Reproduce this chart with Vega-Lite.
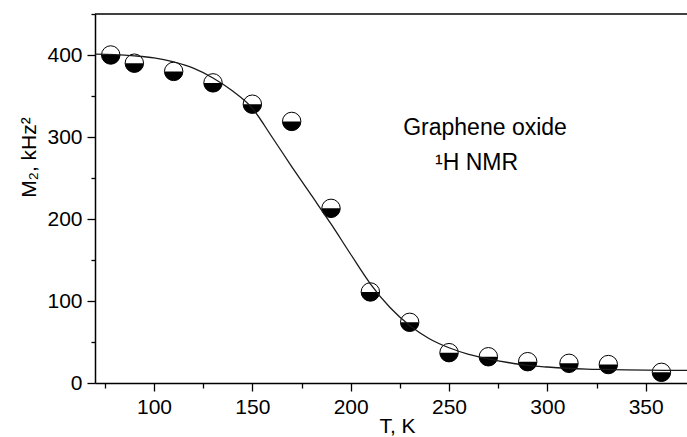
{
  "$schema": "https://vega.github.io/schema/vega-lite/v6.json",
  "width": 592,
  "height": 369,
  "autosize": {"type": "none"},
  "padding": {"left": 95, "top": 14, "right": 0, "bottom": 54},
  "background": "white",
  "config": {"view": {"stroke": null}, "font": "Liberation Sans"},
  "datasets": {
    "points": [
      {"T": 78, "M2": 400},
      {"T": 90, "M2": 390},
      {"T": 110, "M2": 380},
      {"T": 130, "M2": 366},
      {"T": 150, "M2": 340},
      {"T": 170, "M2": 319},
      {"T": 190, "M2": 213},
      {"T": 210, "M2": 111},
      {"T": 230, "M2": 74},
      {"T": 250, "M2": 37},
      {"T": 270, "M2": 32},
      {"T": 290, "M2": 26},
      {"T": 311, "M2": 24},
      {"T": 331, "M2": 22.5},
      {"T": 358, "M2": 13}
    ],
    "fit": [
      {"T": 70, "M2": 401},
      {"T": 80, "M2": 400.5},
      {"T": 90, "M2": 399},
      {"T": 100, "M2": 396.5},
      {"T": 110, "M2": 391.5},
      {"T": 120, "M2": 384},
      {"T": 130, "M2": 372},
      {"T": 140, "M2": 356},
      {"T": 150, "M2": 335},
      {"T": 160, "M2": 300},
      {"T": 170, "M2": 264},
      {"T": 180, "M2": 229},
      {"T": 190, "M2": 194},
      {"T": 200, "M2": 157},
      {"T": 210, "M2": 121},
      {"T": 220, "M2": 92},
      {"T": 230, "M2": 70},
      {"T": 240, "M2": 54},
      {"T": 250, "M2": 43},
      {"T": 260, "M2": 35},
      {"T": 270, "M2": 29.5},
      {"T": 280, "M2": 25},
      {"T": 290, "M2": 21.5},
      {"T": 300, "M2": 19.5},
      {"T": 310, "M2": 18},
      {"T": 320, "M2": 17},
      {"T": 330, "M2": 16.5},
      {"T": 340, "M2": 16},
      {"T": 350, "M2": 15.7},
      {"T": 360, "M2": 15.5},
      {"T": 371, "M2": 15.3}
    ],
    "notes": [
      {"label": "Graphene oxide", "T": 226.7, "M2": 303},
      {"label": "¹H NMR", "T": 242.9, "M2": 259.7}
    ],
    "frame": [{"M2": 450}]
  },
  "layer": [
    {
      "data": {"name": "points"},
      "mark": {"type": "point", "shape": "circle", "filled": true, "fill": "white", "stroke": "black", "strokeWidth": 1, "size": 340, "opacity": 1},
      "encoding": {
        "x": {
          "field": "T", "type": "quantitative",
          "scale": {"domain": [70, 371], "nice": false, "zero": false},
          "axis": {
            "values": [75, 100, 125, 150, 175, 200, 225, 250, 275, 300, 325, 350],
            "labelExpr": "datum.value % 50 === 0 ? datum.label : ''",
            "tickSize": {"condition": {"test": "datum.value % 50 === 0", "value": 8}, "value": 5},
            "tickColor": "black", "tickWidth": 1.3,
            "domainColor": "black", "domainWidth": 1.5,
            "labelFont": "Liberation Sans", "labelFontSize": 21, "labelColor": "black", "labelPadding": 5,
            "labelFlush": false, "labelOverlap": false, "grid": false,
            "title": "T, K", "titleFont": "Liberation Sans", "titleFontSize": 21, "titleFontWeight": "normal", "titleColor": "black",
            "titleX": 302, "titleY": 49, "titleBaseline": "alphabetic", "titleAlign": "center"
          }
        },
        "y": {
          "field": "M2", "type": "quantitative",
          "scale": {"domain": [0, 450], "nice": false, "zero": false},
          "axis": {
            "values": [0, 50, 100, 150, 200, 250, 300, 350, 400, 450],
            "labelExpr": "datum.value % 100 === 0 ? datum.label : ''",
            "tickSize": {"condition": {"test": "datum.value % 100 === 0", "value": 8}, "value": 4},
            "tickColor": "black", "tickWidth": 1.3,
            "domainColor": "black", "domainWidth": 1.5,
            "labelFont": "Liberation Sans", "labelFontSize": 21, "labelColor": "black", "labelPadding": 5,
            "labelFlush": false, "labelOverlap": false, "grid": false,
            "title": "M₂, kHz²", "titleFont": "Liberation Sans", "titleFontSize": 21, "titleFontWeight": "normal", "titleColor": "black",
            "titleAngle": -90, "titleX": -60, "titleY": 143, "titleBaseline": "alphabetic", "titleAlign": "center"
          }
        }
      }
    },
    {
      "data": {"name": "points"},
      "mark": {"type": "point", "shape": "M-1,0A1,1,0,0,0,1,0Z", "filled": true, "fill": "black", "strokeWidth": 0, "size": 340, "opacity": 1},
      "encoding": {
        "x": {"field": "T", "type": "quantitative"},
        "y": {"field": "M2", "type": "quantitative"}
      }
    },
    {
      "data": {"name": "fit"},
      "mark": {"type": "line", "color": "#1a1a1a", "strokeWidth": 1.3, "interpolate": "monotone", "clip": true},
      "encoding": {
        "x": {"field": "T", "type": "quantitative"},
        "y": {"field": "M2", "type": "quantitative"}
      }
    },
    {
      "data": {"name": "frame"},
      "mark": {"type": "rule", "color": "black", "strokeWidth": 1.5},
      "encoding": {"y": {"field": "M2", "type": "quantitative"}}
    },
    {
      "data": {"name": "notes"},
      "mark": {"type": "text", "font": "Liberation Sans", "fontSize": 23, "color": "black", "align": "left", "baseline": "alphabetic"},
      "encoding": {
        "x": {"field": "T", "type": "quantitative"},
        "y": {"field": "M2", "type": "quantitative"},
        "text": {"field": "label"}
      }
    }
  ]
}
